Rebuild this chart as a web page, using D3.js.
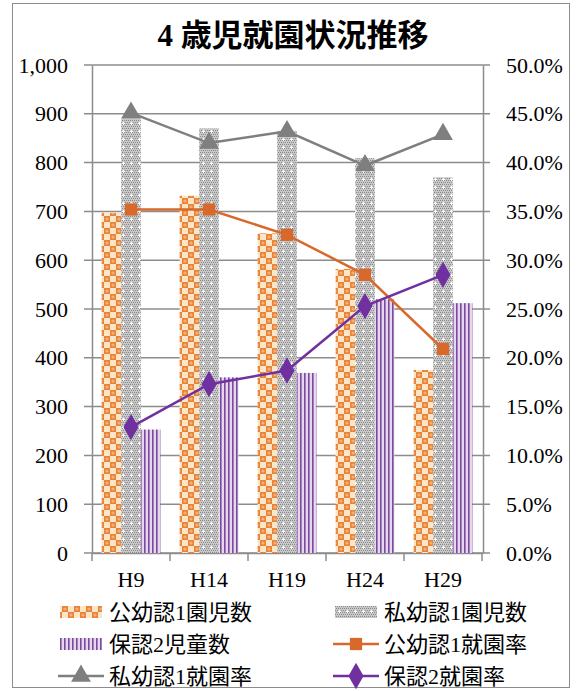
<!DOCTYPE html>
<html><head><meta charset="utf-8">
<script src="https://cdn.jsdelivr.net/npm/d3@7"></script>
<style>body{margin:0;background:#fff}</style>
</head><body>
<svg id="c" width="578" height="691"></svg>
<script>
const categories = ["H9","H14","H19","H24","H29"];
const kouyouCount = [697, 732, 655, 582, 375];
const shiyouCount = [890, 870, 865, 809, 770];
const hoCount = [253, 360, 369, 520, 512];
const kouyouRate = [0.352, 0.352, 0.326, 0.285, 0.209];
const shiyouRate = [0.451, 0.420, 0.432, 0.397, 0.429];
const hoRate = [0.129, 0.173, 0.187, 0.253, 0.285];
const leftTicks = [0,100,200,300,400,500,600,700,800,900,1000];
const rightTicks = [0,0.05,0.1,0.15,0.2,0.25,0.3,0.35,0.4,0.45,0.5];
const barNames = ["公幼認1園児数","私幼認1園児数","保認2児童数"];
const lineNames = ["公幼認1就園率","私幼認1就園率","保認2就園率"];

const svg = d3.select("#c");
const serif = "'Liberation Serif', 'DejaVu Serif', serif";
const cjk = "'Liberation Serif', 'Noto Sans CJK JP', serif";

// patterns
const defs = svg.append("defs");
const pO = defs.append("pattern").attr("id","pO").attr("patternUnits","userSpaceOnUse").attr("width",12).attr("height",12).attr("x",104);
pO.append("rect").attr("width",12).attr("height",12).attr("fill","#fde6c8");
[[0,0],[6,6]].forEach(([x,y])=>{
  pO.append("rect").attr("x",x).attr("y",y).attr("width",6).attr("height",6).attr("fill","#e8843a");
  pO.append("circle").attr("cx",x+3).attr("cy",y+3).attr("r",1.6).attr("fill","#f4b07a");
});
const pG = defs.append("pattern").attr("id","pG").attr("patternUnits","userSpaceOnUse").attr("width",8).attr("height",8);
pG.append("rect").attr("width",8).attr("height",8).attr("fill","#c8c8c8");
for(let i=0;i<8;i+=2)for(let j=0;j<8;j+=2){pG.append("rect").attr("x",i+((j/2)%2)).attr("y",j).attr("width",1).attr("height",1).attr("fill","#8a8a8a");}
pG.append("rect").attr("x",3).attr("y",2).attr("width",1).attr("height",3).attr("fill","#fff");
pG.append("rect").attr("x",2).attr("y",3).attr("width",3).attr("height",1).attr("fill","#fff");
const pP = defs.append("pattern").attr("id","pP").attr("patternUnits","userSpaceOnUse").attr("width",4).attr("height",4);
pP.append("rect").attr("width",4).attr("height",4).attr("fill","#e6d6ee");
pP.append("rect").attr("x",0).attr("width",1.6).attr("height",4).attr("fill","#7a4a9e");

// outer border
svg.append("rect").attr("x",12.5).attr("y",3.5).attr("width",557).attr("height",684).attr("fill","#fff").attr("stroke","#8c8c8c").attr("stroke-width",1);

svg.append("text").attr("x",293).attr("y",46).attr("text-anchor","middle")
  .style("font-family",cjk).style("font-size","31px").style("font-weight","600").attr("fill","#000").text("4 歳児就園状況推移");

const x0 = d3.scaleBand().domain(categories).range([92,482]);
const y = d3.scaleLinear().domain([0,1000]).range([553,65]);
const yR = d3.scaleLinear().domain([0,0.5]).range([553,65]);

// grid
svg.append("g").selectAll("line").data(leftTicks).join("line")
  .attr("x1",84).attr("x2",490).attr("y1",d=>y(d)).attr("y2",d=>y(d))
  .attr("stroke","#8c8c8c").attr("stroke-width",1.5);

// axes
const ax = svg.append("g").attr("transform","translate(92,0)")
  .call(d3.axisLeft(y).tickValues(leftTicks).tickFormat(d3.format(",")).tickSize(0).tickPadding(24));
ax.select(".domain").attr("stroke","#8c8c8c").attr("stroke-width",1.5);
ax.selectAll("text").style("font-family",serif).style("font-size","22px").attr("fill","#000");
const axR = svg.append("g").attr("transform","translate(483,0)")
  .call(d3.axisRight(yR).tickValues(rightTicks).tickFormat(d3.format(".1%")).tickSize(0).tickPadding(23));
axR.select(".domain").attr("stroke","#8c8c8c").attr("stroke-width",1.5);
axR.selectAll("text").style("font-family",serif).style("font-size","22px").attr("fill","#000");
const axB = svg.append("g").attr("transform","translate(0,553)")
  .call(d3.axisBottom(x0).tickSize(0).tickPadding(18));
axB.select(".domain").attr("stroke","#8c8c8c").attr("stroke-width",1.5);
axB.selectAll("text").style("font-family",serif).style("font-size","22px").attr("fill","#000");
svg.append("g").selectAll("line").data(d3.range(6)).join("line")
  .attr("x1",i=>92+i*x0.bandwidth()).attr("x2",i=>92+i*x0.bandwidth())
  .attr("y1",553).attr("y2",561).attr("stroke","#8c8c8c").attr("stroke-width",1.5);

// bars
const x1 = d3.scaleBand().domain([0,1,2]).range([0,x0.bandwidth()]).paddingOuter(0.49).paddingInner(0);
const barData = [kouyouCount, shiyouCount, hoCount];
const fills = ["url(#pO)","url(#pG)","url(#pP)"];
barData.forEach((arr,si)=>{
  svg.append("g").selectAll("rect").data(arr).join("rect")
    .attr("x",(d,i)=>x0(categories[i])+x1(si)).attr("width",x1.bandwidth())
    .attr("y",d=>y(d)).attr("height",d=>y(0)-y(d)).attr("fill",fills[si]);
});

// lines
const cx = i=>x0(categories[i])+x0.bandwidth()/2;
const lineData = [kouyouRate, shiyouRate, hoRate];
const lcolors = ["#d8692a","#7f7f7f","#7030a0"];
const line = d3.line().x((d,i)=>cx(i)).y(d=>yR(d));
const sq = d3.symbol().type(d3.symbolSquare).size(150);
const tri = d3.symbol().type(d3.symbolTriangle).size(170);
const dia = d3.symbol().type(d3.symbolDiamond).size(200);
const syms = [sq,tri,dia];
lineData.forEach((arr,si)=>{
  svg.append("path").datum(arr).attr("d",line).attr("fill","none").attr("stroke",lcolors[si]).attr("stroke-width",2.5);
  svg.append("g").selectAll("path").data(arr).join("path")
    .attr("transform",(d,i)=>`translate(${cx(i)},${yR(d)})`).attr("d",syms[si]()).attr("fill",lcolors[si]);
});

// legend
const leg = [
  {type:"bar",fill:fills[0],name:barNames[0],x:60,y:612},
  {type:"bar",fill:fills[1],name:barNames[1],x:335,y:612},
  {type:"bar",fill:fills[2],name:barNames[2],x:60,y:644},
  {type:"line",c:lcolors[0],sym:sq,name:lineNames[0],x:335,y:644},
  {type:"line",c:lcolors[1],sym:tri,name:lineNames[1],x:60,y:676},
  {type:"line",c:lcolors[2],sym:dia,name:lineNames[2],x:335,y:676}
];
const lg = svg.append("g");
leg.forEach(l=>{
  if(l.type==="bar"){
    lg.append("rect").attr("x",l.x).attr("y",l.y-6).attr("width",42).attr("height",12).attr("fill",l.fill);
  } else {
    lg.append("line").attr("x1",l.x-2).attr("x2",l.x+44).attr("y1",l.y).attr("y2",l.y).attr("stroke",l.c).attr("stroke-width",2.5);
    lg.append("path").attr("transform",`translate(${l.x+21},${l.y})`).attr("d",l.sym()).attr("fill",l.c);
  }
  lg.append("text").attr("x",l.x+49).attr("y",l.y+8).style("font-family",cjk).style("font-size","22px").attr("fill","#000").text(l.name);
});
</script>
</body></html>
